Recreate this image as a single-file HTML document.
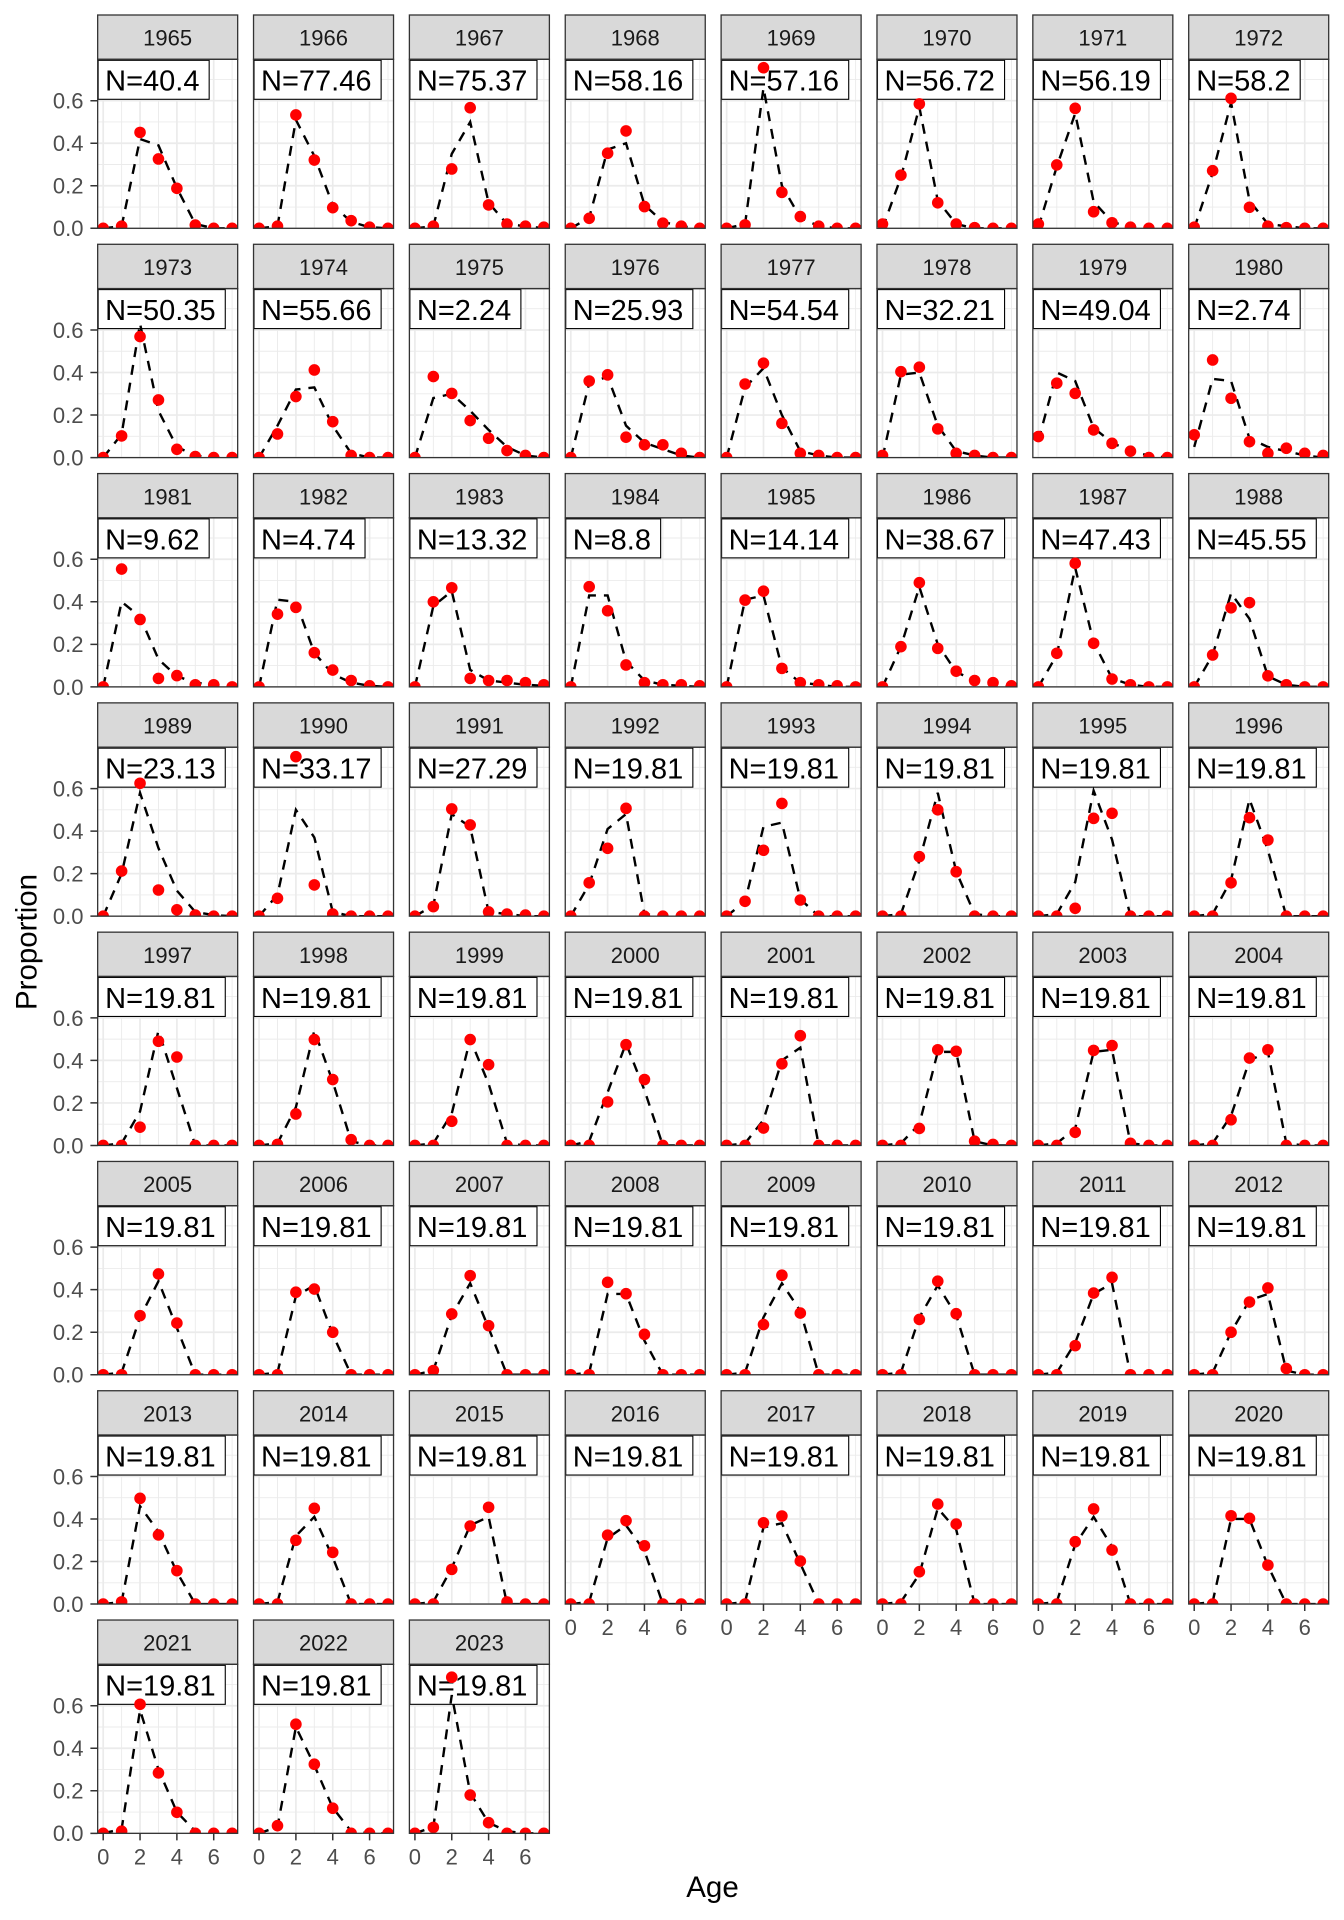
<!DOCTYPE html>
<html><head><meta charset="utf-8"><style>
html,body{margin:0;padding:0;background:#fff}
svg{display:block}
text{font-family:"Liberation Sans",Arial,sans-serif}
.s{font-size:22px;fill:#1A1A1A;text-anchor:middle}
.n{font-size:29px;fill:#000}
.ty{font-size:22px;fill:#4D4D4D;text-anchor:end}
.tx{font-size:22px;fill:#4D4D4D;text-anchor:middle}
.lb{fill:#fff;stroke:#000;stroke-width:1.1}
.d{fill:none;stroke:#000;stroke-width:2.4;stroke-dasharray:10 8;vector-effect:non-scaling-stroke}
.p{fill:none;stroke:none;marker-start:url(#m);marker-mid:url(#m);marker-end:url(#m)}
.tk{stroke:#333;stroke-width:1.5;fill:none}
.at{font-size:29.5px;fill:#000;text-anchor:middle}
</style></head><body>
<svg width="1344" height="1920" viewBox="0 0 1344 1920" xmlns="http://www.w3.org/2000/svg">
<defs>
<marker id="m" markerUnits="userSpaceOnUse" markerWidth="1" markerHeight="1" refX="0" refY="0" orient="0" overflow="visible"><ellipse cx="0" cy="0" rx="0.3149" ry="0.02727" fill="#FF0000"/></marker>
<clipPath id="cp"><rect x="0" y="44.3" width="140" height="169"/></clipPath>
<g id="bg">
<rect x="0" y="44.3" width="140" height="169" fill="#fff"/>
<path d="M23.95,44.3V213.3M60.79,44.3V213.3M97.63,44.3V213.3M134.47,44.3V213.3M0,192.03H140M0,149.5H140M0,106.97H140M0,64.43H140" stroke="#EBEBEB" stroke-width="0.9" fill="none"/>
<path d="M5.53,44.3V213.3M42.37,44.3V213.3M79.21,44.3V213.3M116.05,44.3V213.3M0,213.3H140M0,170.77H140M0,128.23H140M0,85.7H140" stroke="#EBEBEB" stroke-width="1.7" fill="none"/>
</g>
<g id="fr">
<rect x="0" y="0" width="140" height="44.3" fill="#D9D9D9" stroke="#333" stroke-width="1.3"/>
<rect x="0" y="44.3" width="140" height="169" fill="none" stroke="#333" stroke-width="1.3"/>
</g>
<path id="yt" d="M90.4,213.3H97.67M90.4,170.77H97.67M90.4,128.23H97.67M90.4,85.7H97.67"/>
<path id="xt" d="M5.53,213.3v7M42.37,213.3v7M79.21,213.3v7M116.05,213.3v7"/>
</defs>
<rect width="1344" height="1920" fill="#fff"/>

<!-- Row 0 -->
<g transform="translate(97.67,15)"><use href="#bg"/><rect class="lb" x="0.5" y="45.3" width="111" height="39"/><text class="n" x="7.5" y="75.7">N=40.4</text><g clip-path="url(#cp)"><g transform="translate(5.53,213.3) scale(18.42,-212.67)"><polyline class="d" points="0,0 1,.01 2,.42 3,.39 4,.19 5,.02 6,0 7,0"/><polyline class="p" points="0,0 1,.01 2,.451 3,.326 4,.188 5,.015 6,0 7,0"/></g></g><use href="#fr"/><text class="s" x="70" y="30.7">1965</text></g>
<g transform="translate(253.53,15)"><use href="#bg"/><rect class="lb" x="0.5" y="45.3" width="127.1" height="39"/><text class="n" x="7.5" y="75.7">N=77.46</text><g clip-path="url(#cp)"><g transform="translate(5.53,213.3) scale(18.42,-212.67)"><polyline class="d" points="0,0 1,.01 2,.51 3,.34 4,.11 5,.03 6,.005 7,0"/><polyline class="p" points="0,0 1,.01 2,.533 3,.321 4,.097 5,.036 6,.005 7,0"/></g></g><use href="#fr"/><text class="s" x="70" y="30.7">1966</text></g>
<g transform="translate(409.39,15)"><use href="#bg"/><rect class="lb" x="0.5" y="45.3" width="127.1" height="39"/><text class="n" x="7.5" y="75.7">N=75.37</text><g clip-path="url(#cp)"><g transform="translate(5.53,213.3) scale(18.42,-212.67)"><polyline class="d" points="0,0 1,.01 2,.35 3,.5 4,.12 5,.02 6,.01 7,0"/><polyline class="p" points="0,0 1,.01 2,.279 3,.567 4,.11 5,.02 6,.01 7,.005"/></g></g><use href="#fr"/><text class="s" x="70" y="30.7">1967</text></g>
<g transform="translate(565.25,15)"><use href="#bg"/><rect class="lb" x="0.5" y="45.3" width="127.1" height="39"/><text class="n" x="7.5" y="75.7">N=58.16</text><g clip-path="url(#cp)"><g transform="translate(5.53,213.3) scale(18.42,-212.67)"><polyline class="d" points="0,0 1,.05 2,.37 3,.4 4,.11 5,.03 6,.01 7,0"/><polyline class="p" points="0,0 1,.047 2,.353 3,.458 4,.102 5,.024 6,.01 7,0"/></g></g><use href="#fr"/><text class="s" x="70" y="30.7">1968</text></g>
<g transform="translate(721.11,15)"><use href="#bg"/><rect class="lb" x="0.5" y="45.3" width="127.1" height="39"/><text class="n" x="7.5" y="75.7">N=57.16</text><g clip-path="url(#cp)"><g transform="translate(5.53,213.3) scale(18.42,-212.67)"><polyline class="d" points="0,0 1,.02 2,.66 3,.2 4,.05 5,.01 6,0 7,0"/><polyline class="p" points="0,0 1,.016 2,.755 3,.169 4,.055 5,.01 6,0 7,0"/></g></g><use href="#fr"/><text class="s" x="70" y="30.7">1969</text></g>
<g transform="translate(876.97,15)"><use href="#bg"/><rect class="lb" x="0.5" y="45.3" width="127.1" height="39"/><text class="n" x="7.5" y="75.7">N=56.72</text><g clip-path="url(#cp)"><g transform="translate(5.53,213.3) scale(18.42,-212.67)"><polyline class="d" points="0,0 1,.24 2,.57 3,.13 4,.02 5,0 6,0 7,0"/><polyline class="p" points="0,.02 1,.25 2,.585 3,.12 4,.02 5,.003 6,0 7,0"/></g></g><use href="#fr"/><text class="s" x="70" y="30.7">1970</text></g>
<g transform="translate(1032.83,15)"><use href="#bg"/><rect class="lb" x="0.5" y="45.3" width="127.1" height="39"/><text class="n" x="7.5" y="75.7">N=56.19</text><g clip-path="url(#cp)"><g transform="translate(5.53,213.3) scale(18.42,-212.67)"><polyline class="d" points="0,.005 1,.29 2,.54 3,.125 4,.03 5,.005 6,0 7,0"/><polyline class="p" points="0,.02 1,.298 2,.564 3,.078 4,.026 5,.005 6,0 7,0"/></g></g><use href="#fr"/><text class="s" x="70" y="30.7">1971</text></g>
<g transform="translate(1188.69,15)"><use href="#bg"/><rect class="lb" x="0.5" y="45.3" width="111" height="39"/><text class="n" x="7.5" y="75.7">N=58.2</text><g clip-path="url(#cp)"><g transform="translate(5.53,213.3) scale(18.42,-212.67)"><polyline class="d" points="0,0 1,.26 2,.59 3,.13 4,.02 5,.01 6,0 7,0"/><polyline class="p" points="0,.005 1,.271 2,.611 3,.099 4,.01 5,.003 6,0 7,0"/></g></g><use href="#fr"/><text class="s" x="70" y="30.7">1972</text></g>

<!-- Row 1 -->
<g transform="translate(97.67,244.29)"><use href="#bg"/><rect class="lb" x="0.5" y="45.3" width="127.1" height="39"/><text class="n" x="7.5" y="75.7">N=50.35</text><g clip-path="url(#cp)"><g transform="translate(5.53,213.3) scale(18.42,-212.67)"><polyline class="d" points="0,0 1,.11 2,.63 3,.22 4,.05 5,.01 6,0 7,0"/><polyline class="p" points="0,0 1,.102 2,.569 3,.271 4,.039 5,.005 6,0 7,0"/></g></g><use href="#fr"/><text class="s" x="70" y="30.7">1973</text></g>
<g transform="translate(253.53,244.29)"><use href="#bg"/><rect class="lb" x="0.5" y="45.3" width="127.1" height="39"/><text class="n" x="7.5" y="75.7">N=55.66</text><g clip-path="url(#cp)"><g transform="translate(5.53,213.3) scale(18.42,-212.67)"><polyline class="d" points="0,0 1,.15 2,.32 3,.33 4,.15 5,.02 6,0 7,0"/><polyline class="p" points="0,0 1,.111 2,.287 3,.412 4,.169 5,.01 6,0 7,0"/></g></g><use href="#fr"/><text class="s" x="70" y="30.7">1974</text></g>
<g transform="translate(409.39,244.29)"><use href="#bg"/><rect class="lb" x="0.5" y="45.3" width="111" height="39"/><text class="n" x="7.5" y="75.7">N=2.24</text><g clip-path="url(#cp)"><g transform="translate(5.53,213.3) scale(18.42,-212.67)"><polyline class="d" points="0,0 1,.28 2,.3 3,.22 4,.13 5,.05 6,.01 7,0"/><polyline class="p" points="0,0 1,.381 2,.302 3,.174 4,.091 5,.033 6,.01 7,0"/></g></g><use href="#fr"/><text class="s" x="70" y="30.7">1975</text></g>
<g transform="translate(565.25,244.29)"><use href="#bg"/><rect class="lb" x="0.5" y="45.3" width="127.1" height="39"/><text class="n" x="7.5" y="75.7">N=25.93</text><g clip-path="url(#cp)"><g transform="translate(5.53,213.3) scale(18.42,-212.67)"><polyline class="d" points="0,0 1,.35 2,.38 3,.15 4,.07 5,.04 6,.01 7,0"/><polyline class="p" points="0,0 1,.36 2,.389 3,.096 4,.06 5,.06 6,.02 7,0"/></g></g><use href="#fr"/><text class="s" x="70" y="30.7">1976</text></g>
<g transform="translate(721.11,244.29)"><use href="#bg"/><rect class="lb" x="0.5" y="45.3" width="127.1" height="39"/><text class="n" x="7.5" y="75.7">N=54.54</text><g clip-path="url(#cp)"><g transform="translate(5.53,213.3) scale(18.42,-212.67)"><polyline class="d" points="0,0 1,.33 2,.42 3,.2 4,.03 5,.01 6,0 7,0"/><polyline class="p" points="0,0 1,.346 2,.444 3,.161 4,.02 5,.01 6,0 7,0"/></g></g><use href="#fr"/><text class="s" x="70" y="30.7">1977</text></g>
<g transform="translate(876.97,244.29)"><use href="#bg"/><rect class="lb" x="0.5" y="45.3" width="127.1" height="39"/><text class="n" x="7.5" y="75.7">N=32.21</text><g clip-path="url(#cp)"><g transform="translate(5.53,213.3) scale(18.42,-212.67)"><polyline class="d" points="0,0 1,.39 2,.4 3,.15 4,.03 5,.01 6,0 7,0"/><polyline class="p" points="0,.01 1,.404 2,.425 3,.135 4,.02 5,.01 6,0 7,0"/></g></g><use href="#fr"/><text class="s" x="70" y="30.7">1978</text></g>
<g transform="translate(1032.83,244.29)"><use href="#bg"/><rect class="lb" x="0.5" y="45.3" width="127.1" height="39"/><text class="n" x="7.5" y="75.7">N=49.04</text><g clip-path="url(#cp)"><g transform="translate(5.53,213.3) scale(18.42,-212.67)"><polyline class="d" points="0,.08 1,.4 2,.36 3,.14 4,.07 5,.03 6,.01 7,0"/><polyline class="p" points="0,.099 1,.35 2,.302 3,.13 4,.067 5,.03 6,0 7,0"/></g></g><use href="#fr"/><text class="s" x="70" y="30.7">1979</text></g>
<g transform="translate(1188.69,244.29)"><use href="#bg"/><rect class="lb" x="0.5" y="45.3" width="111" height="39"/><text class="n" x="7.5" y="75.7">N=2.74</text><g clip-path="url(#cp)"><g transform="translate(5.53,213.3) scale(18.42,-212.67)"><polyline class="d" points="0,.05 1,.37 2,.36 3,.09 4,.05 5,.03 6,.01 7,0"/><polyline class="p" points="0,.107 1,.459 2,.279 3,.075 4,.02 5,.044 6,.02 7,.01"/></g></g><use href="#fr"/><text class="s" x="70" y="30.7">1980</text></g>

<!-- Row 2 -->
<g transform="translate(97.67,473.58)"><use href="#bg"/><rect class="lb" x="0.5" y="45.3" width="111" height="39"/><text class="n" x="7.5" y="75.7">N=9.62</text><g clip-path="url(#cp)"><g transform="translate(5.53,213.3) scale(18.42,-212.67)"><polyline class="d" points="0,0 1,.4 2,.33 3,.13 4,.05 5,.02 6,.01 7,0"/><polyline class="p" points="0,0 1,.554 2,.317 3,.04 4,.053 5,.01 6,.01 7,0"/></g></g><use href="#fr"/><text class="s" x="70" y="30.7">1981</text></g>
<g transform="translate(253.53,473.58)"><use href="#bg"/><rect class="lb" x="0.5" y="45.3" width="111" height="39"/><text class="n" x="7.5" y="75.7">N=4.74</text><g clip-path="url(#cp)"><g transform="translate(5.53,213.3) scale(18.42,-212.67)"><polyline class="d" points="0,0 1,.41 2,.4 3,.16 4,.06 5,.02 6,.005 7,0"/><polyline class="p" points="0,0 1,.342 2,.374 3,.161 4,.079 5,.03 6,.005 7,0"/></g></g><use href="#fr"/><text class="s" x="70" y="30.7">1982</text></g>
<g transform="translate(409.39,473.58)"><use href="#bg"/><rect class="lb" x="0.5" y="45.3" width="127.1" height="39"/><text class="n" x="7.5" y="75.7">N=13.32</text><g clip-path="url(#cp)"><g transform="translate(5.53,213.3) scale(18.42,-212.67)"><polyline class="d" points="0,0 1,.38 2,.45 3,.08 4,.03 5,.02 6,.01 7,.005"/><polyline class="p" points="0,0 1,.4 2,.466 3,.04 4,.03 5,.03 6,.02 7,.01"/></g></g><use href="#fr"/><text class="s" x="70" y="30.7">1983</text></g>
<g transform="translate(565.25,473.58)"><use href="#bg"/><rect class="lb" x="0.5" y="45.3" width="94.9" height="39"/><text class="n" x="7.5" y="75.7">N=8.8</text><g clip-path="url(#cp)"><g transform="translate(5.53,213.3) scale(18.42,-212.67)"><polyline class="d" points="0,0 1,.43 2,.43 3,.12 4,.03 5,.01 6,.005 7,0"/><polyline class="p" points="0,0 1,.471 2,.358 3,.103 4,.02 5,.01 6,.01 7,.005"/></g></g><use href="#fr"/><text class="s" x="70" y="30.7">1984</text></g>
<g transform="translate(721.11,473.58)"><use href="#bg"/><rect class="lb" x="0.5" y="45.3" width="127.1" height="39"/><text class="n" x="7.5" y="75.7">N=14.14</text><g clip-path="url(#cp)"><g transform="translate(5.53,213.3) scale(18.42,-212.67)"><polyline class="d" points="0,0 1,.41 2,.43 3,.09 4,.02 5,.01 6,0 7,0"/><polyline class="p" points="0,0 1,.408 2,.45 3,.087 4,.02 5,.01 6,.005 7,0"/></g></g><use href="#fr"/><text class="s" x="70" y="30.7">1985</text></g>
<g transform="translate(876.97,473.58)"><use href="#bg"/><rect class="lb" x="0.5" y="45.3" width="127.1" height="39"/><text class="n" x="7.5" y="75.7">N=38.67</text><g clip-path="url(#cp)"><g transform="translate(5.53,213.3) scale(18.42,-212.67)"><polyline class="d" points="0,0 1,.19 2,.47 3,.2 4,.07 5,.03 6,.01 7,0"/><polyline class="p" points="0,0 1,.189 2,.49 3,.181 4,.074 5,.03 6,.02 7,.005"/></g></g><use href="#fr"/><text class="s" x="70" y="30.7">1986</text></g>
<g transform="translate(1032.83,473.58)"><use href="#bg"/><rect class="lb" x="0.5" y="45.3" width="127.1" height="39"/><text class="n" x="7.5" y="75.7">N=47.43</text><g clip-path="url(#cp)"><g transform="translate(5.53,213.3) scale(18.42,-212.67)"><polyline class="d" points="0,0 1,.15 2,.56 3,.21 4,.04 5,.01 6,0 7,0"/><polyline class="p" points="0,0 1,.158 2,.581 3,.205 4,.037 5,.01 6,0 7,0"/></g></g><use href="#fr"/><text class="s" x="70" y="30.7">1987</text></g>
<g transform="translate(1188.69,473.58)"><use href="#bg"/><rect class="lb" x="0.5" y="45.3" width="127.1" height="39"/><text class="n" x="7.5" y="75.7">N=45.55</text><g clip-path="url(#cp)"><g transform="translate(5.53,213.3) scale(18.42,-212.67)"><polyline class="d" points="0,0 1,.15 2,.44 3,.32 4,.05 5,.01 6,0 7,0"/><polyline class="p" points="0,0 1,.15 2,.372 3,.396 4,.052 5,.01 6,0 7,0"/></g></g><use href="#fr"/><text class="s" x="70" y="30.7">1988</text></g>

<!-- Row 3 -->
<g transform="translate(97.67,702.87)"><use href="#bg"/><rect class="lb" x="0.5" y="45.3" width="127.1" height="39"/><text class="n" x="7.5" y="75.7">N=23.13</text><g clip-path="url(#cp)"><g transform="translate(5.53,213.3) scale(18.42,-212.67)"><polyline class="d" points="0,0 1,.2 2,.58 3,.32 4,.12 5,.02 6,.005 7,0"/><polyline class="p" points="0,0 1,.212 2,.625 3,.123 4,.03 5,.005 6,0 7,0"/></g></g><use href="#fr"/><text class="s" x="70" y="30.7">1989</text></g>
<g transform="translate(253.53,702.87)"><use href="#bg"/><rect class="lb" x="0.5" y="45.3" width="127.1" height="39"/><text class="n" x="7.5" y="75.7">N=33.17</text><g clip-path="url(#cp)"><g transform="translate(5.53,213.3) scale(18.42,-212.67)"><polyline class="d" points="0,0 1,.1 2,.5 3,.37 4,.02 5,0 6,0 7,0"/><polyline class="p" points="0,0 1,.084 2,.75 3,.147 4,.01 5,0 6,0 7,0"/></g></g><use href="#fr"/><text class="s" x="70" y="30.7">1990</text></g>
<g transform="translate(409.39,702.87)"><use href="#bg"/><rect class="lb" x="0.5" y="45.3" width="127.1" height="39"/><text class="n" x="7.5" y="75.7">N=27.29</text><g clip-path="url(#cp)"><g transform="translate(5.53,213.3) scale(18.42,-212.67)"><polyline class="d" points="0,0 1,.05 2,.48 3,.42 4,.02 5,.01 6,0 7,0"/><polyline class="p" points="0,0 1,.045 2,.504 3,.429 4,.02 5,.01 6,.005 7,0"/></g></g><use href="#fr"/><text class="s" x="70" y="30.7">1991</text></g>
<g transform="translate(565.25,702.87)"><use href="#bg"/><rect class="lb" x="0.5" y="45.3" width="127.1" height="39"/><text class="n" x="7.5" y="75.7">N=19.81</text><g clip-path="url(#cp)"><g transform="translate(5.53,213.3) scale(18.42,-212.67)"><polyline class="d" points="0,0 1,.15 2,.41 3,.48 4,.01 5,0 6,0 7,0"/><polyline class="p" points="0,0 1,.157 2,.319 3,.507 4,0 5,0 6,0 7,0"/></g></g><use href="#fr"/><text class="s" x="70" y="30.7">1992</text></g>
<g transform="translate(721.11,702.87)"><use href="#bg"/><rect class="lb" x="0.5" y="45.3" width="127.1" height="39"/><text class="n" x="7.5" y="75.7">N=19.81</text><g clip-path="url(#cp)"><g transform="translate(5.53,213.3) scale(18.42,-212.67)"><polyline class="d" points="0,0 1,.07 2,.42 3,.44 4,.08 5,0 6,0 7,0"/><polyline class="p" points="0,0 1,.07 2,.31 3,.53 4,.076 5,0 6,0 7,0"/></g></g><use href="#fr"/><text class="s" x="70" y="30.7">1993</text></g>
<g transform="translate(876.97,702.87)"><use href="#bg"/><rect class="lb" x="0.5" y="45.3" width="127.1" height="39"/><text class="n" x="7.5" y="75.7">N=19.81</text><g clip-path="url(#cp)"><g transform="translate(5.53,213.3) scale(18.42,-212.67)"><polyline class="d" points="0,0 1,.01 2,.26 3,.58 4,.21 5,.01 6,0 7,0"/><polyline class="p" points="0,0 1,0 2,.28 3,.5 4,.209 5,0 6,0 7,0"/></g></g><use href="#fr"/><text class="s" x="70" y="30.7">1994</text></g>
<g transform="translate(1032.83,702.87)"><use href="#bg"/><rect class="lb" x="0.5" y="45.3" width="127.1" height="39"/><text class="n" x="7.5" y="75.7">N=19.81</text><g clip-path="url(#cp)"><g transform="translate(5.53,213.3) scale(18.42,-212.67)"><polyline class="d" points="0,0 1,.01 2,.16 3,.59 4,.36 5,0 6,0 7,0"/><polyline class="p" points="0,0 1,0 2,.037 3,.46 4,.484 5,0 6,0 7,0"/></g></g><use href="#fr"/><text class="s" x="70" y="30.7">1995</text></g>
<g transform="translate(1188.69,702.87)"><use href="#bg"/><rect class="lb" x="0.5" y="45.3" width="127.1" height="39"/><text class="n" x="7.5" y="75.7">N=19.81</text><g clip-path="url(#cp)"><g transform="translate(5.53,213.3) scale(18.42,-212.67)"><polyline class="d" points="0,0 1,.01 2,.17 3,.55 4,.31 5,0 6,0 7,0"/><polyline class="p" points="0,0 1,0 2,.157 3,.463 4,.358 5,0 6,0 7,0"/></g></g><use href="#fr"/><text class="s" x="70" y="30.7">1996</text></g>

<!-- Row 4 -->
<g transform="translate(97.67,932.16)"><use href="#bg"/><rect class="lb" x="0.5" y="45.3" width="127.1" height="39"/><text class="n" x="7.5" y="75.7">N=19.81</text><g clip-path="url(#cp)"><g transform="translate(5.53,213.3) scale(18.42,-212.67)"><polyline class="d" points="0,0 1,.01 2,.16 3,.54 4,.27 5,0 6,0 7,0"/><polyline class="p" points="0,0 1,0 2,.086 3,.49 4,.416 5,0 6,0 7,0"/></g></g><use href="#fr"/><text class="s" x="70" y="30.7">1997</text></g>
<g transform="translate(253.53,932.16)"><use href="#bg"/><rect class="lb" x="0.5" y="45.3" width="127.1" height="39"/><text class="n" x="7.5" y="75.7">N=19.81</text><g clip-path="url(#cp)"><g transform="translate(5.53,213.3) scale(18.42,-212.67)"><polyline class="d" points="0,0 1,.01 2,.18 3,.54 4,.3 5,.02 6,0 7,0"/><polyline class="p" points="0,0 1,.005 2,.148 3,.498 4,.31 5,.027 6,0 7,0"/></g></g><use href="#fr"/><text class="s" x="70" y="30.7">1998</text></g>
<g transform="translate(409.39,932.16)"><use href="#bg"/><rect class="lb" x="0.5" y="45.3" width="127.1" height="39"/><text class="n" x="7.5" y="75.7">N=19.81</text><g clip-path="url(#cp)"><g transform="translate(5.53,213.3) scale(18.42,-212.67)"><polyline class="d" points="0,0 1,.01 2,.15 3,.5 4,.29 5,.01 6,0 7,0"/><polyline class="p" points="0,0 1,0 2,.114 3,.498 4,.38 5,0 6,0 7,0"/></g></g><use href="#fr"/><text class="s" x="70" y="30.7">1999</text></g>
<g transform="translate(565.25,932.16)"><use href="#bg"/><rect class="lb" x="0.5" y="45.3" width="127.1" height="39"/><text class="n" x="7.5" y="75.7">N=19.81</text><g clip-path="url(#cp)"><g transform="translate(5.53,213.3) scale(18.42,-212.67)"><polyline class="d" points="0,0 1,.02 2,.25 3,.48 4,.26 5,0 6,0 7,0"/><polyline class="p" points="0,0 1,0 2,.205 3,.474 4,.31 5,0 6,0 7,0"/></g></g><use href="#fr"/><text class="s" x="70" y="30.7">2000</text></g>
<g transform="translate(721.11,932.16)"><use href="#bg"/><rect class="lb" x="0.5" y="45.3" width="127.1" height="39"/><text class="n" x="7.5" y="75.7">N=19.81</text><g clip-path="url(#cp)"><g transform="translate(5.53,213.3) scale(18.42,-212.67)"><polyline class="d" points="0,0 1,.01 2,.12 3,.4 4,.46 5,0 6,0 7,0"/><polyline class="p" points="0,0 1,0 2,.082 3,.384 4,.516 5,0 6,0 7,0"/></g></g><use href="#fr"/><text class="s" x="70" y="30.7">2001</text></g>
<g transform="translate(876.97,932.16)"><use href="#bg"/><rect class="lb" x="0.5" y="45.3" width="127.1" height="39"/><text class="n" x="7.5" y="75.7">N=19.81</text><g clip-path="url(#cp)"><g transform="translate(5.53,213.3) scale(18.42,-212.67)"><polyline class="d" points="0,0 1,.01 2,.1 3,.44 4,.44 5,.02 6,0 7,0"/><polyline class="p" points="0,0 1,0 2,.08 3,.45 4,.443 5,.02 6,.005 7,0"/></g></g><use href="#fr"/><text class="s" x="70" y="30.7">2002</text></g>
<g transform="translate(1032.83,932.16)"><use href="#bg"/><rect class="lb" x="0.5" y="45.3" width="127.1" height="39"/><text class="n" x="7.5" y="75.7">N=19.81</text><g clip-path="url(#cp)"><g transform="translate(5.53,213.3) scale(18.42,-212.67)"><polyline class="d" points="0,0 1,.01 2,.08 3,.44 4,.45 5,.01 6,0 7,0"/><polyline class="p" points="0,0 1,0 2,.062 3,.447 4,.47 5,.01 6,0 7,0"/></g></g><use href="#fr"/><text class="s" x="70" y="30.7">2003</text></g>
<g transform="translate(1188.69,932.16)"><use href="#bg"/><rect class="lb" x="0.5" y="45.3" width="127.1" height="39"/><text class="n" x="7.5" y="75.7">N=19.81</text><g clip-path="url(#cp)"><g transform="translate(5.53,213.3) scale(18.42,-212.67)"><polyline class="d" points="0,0 1,.01 2,.14 3,.4 4,.44 5,.01 6,0 7,0"/><polyline class="p" points="0,0 1,0 2,.121 3,.411 4,.45 5,0 6,0 7,0"/></g></g><use href="#fr"/><text class="s" x="70" y="30.7">2004</text></g>

<!-- Row 5 -->
<g transform="translate(97.67,1161.45)"><use href="#bg"/><rect class="lb" x="0.5" y="45.3" width="127.1" height="39"/><text class="n" x="7.5" y="75.7">N=19.81</text><g clip-path="url(#cp)"><g transform="translate(5.53,213.3) scale(18.42,-212.67)"><polyline class="d" points="0,0 1,.01 2,.27 3,.44 4,.22 5,0 6,0 7,0"/><polyline class="p" points="0,0 1,0 2,.278 3,.474 4,.243 5,0 6,0 7,0"/></g></g><use href="#fr"/><text class="s" x="70" y="30.7">2005</text></g>
<g transform="translate(253.53,1161.45)"><use href="#bg"/><rect class="lb" x="0.5" y="45.3" width="127.1" height="39"/><text class="n" x="7.5" y="75.7">N=19.81</text><g clip-path="url(#cp)"><g transform="translate(5.53,213.3) scale(18.42,-212.67)"><polyline class="d" points="0,0 1,.01 2,.37 3,.42 4,.19 5,0 6,0 7,0"/><polyline class="p" points="0,0 1,0 2,.388 3,.403 4,.2 5,0 6,0 7,0"/></g></g><use href="#fr"/><text class="s" x="70" y="30.7">2006</text></g>
<g transform="translate(409.39,1161.45)"><use href="#bg"/><rect class="lb" x="0.5" y="45.3" width="127.1" height="39"/><text class="n" x="7.5" y="75.7">N=19.81</text><g clip-path="url(#cp)"><g transform="translate(5.53,213.3) scale(18.42,-212.67)"><polyline class="d" points="0,0 1,.02 2,.28 3,.43 4,.22 5,0 6,0 7,0"/><polyline class="p" points="0,0 1,.02 2,.286 3,.466 4,.231 5,0 6,0 7,0"/></g></g><use href="#fr"/><text class="s" x="70" y="30.7">2007</text></g>
<g transform="translate(565.25,1161.45)"><use href="#bg"/><rect class="lb" x="0.5" y="45.3" width="127.1" height="39"/><text class="n" x="7.5" y="75.7">N=19.81</text><g clip-path="url(#cp)"><g transform="translate(5.53,213.3) scale(18.42,-212.67)"><polyline class="d" points="0,0 1,.01 2,.38 3,.38 4,.16 5,0 6,0 7,0"/><polyline class="p" points="0,0 1,0 2,.435 3,.381 4,.19 5,0 6,0 7,0"/></g></g><use href="#fr"/><text class="s" x="70" y="30.7">2008</text></g>
<g transform="translate(721.11,1161.45)"><use href="#bg"/><rect class="lb" x="0.5" y="45.3" width="127.1" height="39"/><text class="n" x="7.5" y="75.7">N=19.81</text><g clip-path="url(#cp)"><g transform="translate(5.53,213.3) scale(18.42,-212.67)"><polyline class="d" points="0,0 1,.01 2,.27 3,.43 4,.3 5,0 6,0 7,0"/><polyline class="p" points="0,0 1,0 2,.236 3,.468 4,.29 5,0 6,0 7,0"/></g></g><use href="#fr"/><text class="s" x="70" y="30.7">2009</text></g>
<g transform="translate(876.97,1161.45)"><use href="#bg"/><rect class="lb" x="0.5" y="45.3" width="127.1" height="39"/><text class="n" x="7.5" y="75.7">N=19.81</text><g clip-path="url(#cp)"><g transform="translate(5.53,213.3) scale(18.42,-212.67)"><polyline class="d" points="0,0 1,.01 2,.27 3,.42 4,.28 5,0 6,0 7,0"/><polyline class="p" points="0,0 1,0 2,.26 3,.44 4,.287 5,0 6,0 7,0"/></g></g><use href="#fr"/><text class="s" x="70" y="30.7">2010</text></g>
<g transform="translate(1032.83,1161.45)"><use href="#bg"/><rect class="lb" x="0.5" y="45.3" width="127.1" height="39"/><text class="n" x="7.5" y="75.7">N=19.81</text><g clip-path="url(#cp)"><g transform="translate(5.53,213.3) scale(18.42,-212.67)"><polyline class="d" points="0,0 1,.01 2,.15 3,.38 4,.43 5,0 6,0 7,0"/><polyline class="p" points="0,0 1,0 2,.137 3,.384 4,.458 5,0 6,0 7,0"/></g></g><use href="#fr"/><text class="s" x="70" y="30.7">2011</text></g>
<g transform="translate(1188.69,1161.45)"><use href="#bg"/><rect class="lb" x="0.5" y="45.3" width="127.1" height="39"/><text class="n" x="7.5" y="75.7">N=19.81</text><g clip-path="url(#cp)"><g transform="translate(5.53,213.3) scale(18.42,-212.67)"><polyline class="d" points="0,0 1,.01 2,.2 3,.35 4,.38 5,.02 6,0 7,0"/><polyline class="p" points="0,0 1,0 2,.2 3,.342 4,.408 5,.029 6,0 7,0"/></g></g><use href="#fr"/><text class="s" x="70" y="30.7">2012</text></g>

<!-- Row 6 -->
<g transform="translate(97.67,1390.74)"><use href="#bg"/><rect class="lb" x="0.5" y="45.3" width="127.1" height="39"/><text class="n" x="7.5" y="75.7">N=19.81</text><g clip-path="url(#cp)"><g transform="translate(5.53,213.3) scale(18.42,-212.67)"><polyline class="d" points="0,0 1,.01 2,.46 3,.34 4,.15 5,0 6,0 7,0"/><polyline class="p" points="0,0 1,.01 2,.497 3,.325 4,.157 5,0 6,0 7,0"/></g></g><use href="#fr"/><text class="s" x="70" y="30.7">2013</text></g>
<g transform="translate(253.53,1390.74)"><use href="#bg"/><rect class="lb" x="0.5" y="45.3" width="127.1" height="39"/><text class="n" x="7.5" y="75.7">N=19.81</text><g clip-path="url(#cp)"><g transform="translate(5.53,213.3) scale(18.42,-212.67)"><polyline class="d" points="0,0 1,.01 2,.32 3,.41 4,.22 5,0 6,0 7,0"/><polyline class="p" points="0,0 1,0 2,.3 3,.45 4,.243 5,0 6,0 7,0"/></g></g><use href="#fr"/><text class="s" x="70" y="30.7">2014</text></g>
<g transform="translate(409.39,1390.74)"><use href="#bg"/><rect class="lb" x="0.5" y="45.3" width="127.1" height="39"/><text class="n" x="7.5" y="75.7">N=19.81</text><g clip-path="url(#cp)"><g transform="translate(5.53,213.3) scale(18.42,-212.67)"><polyline class="d" points="0,0 1,.01 2,.17 3,.37 4,.41 5,0 6,0 7,0"/><polyline class="p" points="0,0 1,0 2,.163 3,.367 4,.455 5,.01 6,0 7,0"/></g></g><use href="#fr"/><text class="s" x="70" y="30.7">2015</text></g>
<g transform="translate(565.25,1390.74)"><use href="#bg"/><rect class="lb" x="0.5" y="45.3" width="127.1" height="39"/><text class="n" x="7.5" y="75.7">N=19.81</text><g clip-path="url(#cp)"><g transform="translate(5.53,213.3) scale(18.42,-212.67)"><polyline class="d" points="0,0 1,.01 2,.31 3,.37 4,.25 5,0 6,0 7,0"/><polyline class="p" points="0,0 1,0 2,.324 3,.392 4,.274 5,0 6,0 7,0"/></g></g><use href="#fr"/><text class="s" x="70" y="30.7">2016</text></g>
<g transform="translate(721.11,1390.74)"><use href="#bg"/><rect class="lb" x="0.5" y="45.3" width="127.1" height="39"/><text class="n" x="7.5" y="75.7">N=19.81</text><g clip-path="url(#cp)"><g transform="translate(5.53,213.3) scale(18.42,-212.67)"><polyline class="d" points="0,0 1,.01 2,.36 3,.38 4,.19 5,0 6,0 7,0"/><polyline class="p" points="0,0 1,0 2,.382 3,.414 4,.202 5,0 6,0 7,0"/></g></g><use href="#fr"/><text class="s" x="70" y="30.7">2017</text></g>
<g transform="translate(876.97,1390.74)"><use href="#bg"/><rect class="lb" x="0.5" y="45.3" width="127.1" height="39"/><text class="n" x="7.5" y="75.7">N=19.81</text><g clip-path="url(#cp)"><g transform="translate(5.53,213.3) scale(18.42,-212.67)"><polyline class="d" points="0,0 1,.01 2,.14 3,.45 4,.35 5,0 6,0 7,0"/><polyline class="p" points="0,0 1,0 2,.152 3,.47 4,.376 5,0 6,0 7,0"/></g></g><use href="#fr"/><text class="s" x="70" y="30.7">2018</text></g>
<g transform="translate(1032.83,1390.74)"><use href="#bg"/><rect class="lb" x="0.5" y="45.3" width="127.1" height="39"/><text class="n" x="7.5" y="75.7">N=19.81</text><g clip-path="url(#cp)"><g transform="translate(5.53,213.3) scale(18.42,-212.67)"><polyline class="d" points="0,0 1,.01 2,.28 3,.41 4,.27 5,0 6,0 7,0"/><polyline class="p" points="0,0 1,0 2,.293 3,.447 4,.254 5,0 6,0 7,0"/></g></g><use href="#fr"/><text class="s" x="70" y="30.7">2019</text></g>
<g transform="translate(1188.69,1390.74)"><use href="#bg"/><rect class="lb" x="0.5" y="45.3" width="127.1" height="39"/><text class="n" x="7.5" y="75.7">N=19.81</text><g clip-path="url(#cp)"><g transform="translate(5.53,213.3) scale(18.42,-212.67)"><polyline class="d" points="0,0 1,.01 2,.4 3,.4 4,.18 5,0 6,0 7,0"/><polyline class="p" points="0,0 1,0 2,.415 3,.403 4,.183 5,0 6,0 7,0"/></g></g><use href="#fr"/><text class="s" x="70" y="30.7">2020</text></g>

<!-- Row 7 -->
<g transform="translate(97.67,1620.03)"><use href="#bg"/><rect class="lb" x="0.5" y="45.3" width="127.1" height="39"/><text class="n" x="7.5" y="75.7">N=19.81</text><g clip-path="url(#cp)"><g transform="translate(5.53,213.3) scale(18.42,-212.67)"><polyline class="d" points="0,0 1,.02 2,.58 3,.3 4,.1 5,.01 6,0 7,0"/><polyline class="p" points="0,0 1,.01 2,.607 3,.284 4,.099 5,0 6,0 7,0"/></g></g><use href="#fr"/><text class="s" x="70" y="30.7">2021</text></g>
<g transform="translate(253.53,1620.03)"><use href="#bg"/><rect class="lb" x="0.5" y="45.3" width="127.1" height="39"/><text class="n" x="7.5" y="75.7">N=19.81</text><g clip-path="url(#cp)"><g transform="translate(5.53,213.3) scale(18.42,-212.67)"><polyline class="d" points="0,0 1,.03 2,.5 3,.32 4,.12 5,.01 6,0 7,0"/><polyline class="p" points="0,0 1,.036 2,.513 3,.325 4,.118 5,0 6,0 7,0"/></g></g><use href="#fr"/><text class="s" x="70" y="30.7">2022</text></g>
<g transform="translate(409.39,1620.03)"><use href="#bg"/><rect class="lb" x="0.5" y="45.3" width="127.1" height="39"/><text class="n" x="7.5" y="75.7">N=19.81</text><g clip-path="url(#cp)"><g transform="translate(5.53,213.3) scale(18.42,-212.67)"><polyline class="d" points="0,0 1,.03 2,.65 3,.19 4,.05 5,.01 6,0 7,0"/><polyline class="p" points="0,0 1,.028 2,.734 3,.18 4,.05 5,0 6,0 7,0"/></g></g><use href="#fr"/><text class="s" x="70" y="30.7">2023</text></g>

<!-- Y axes -->
<g transform="translate(0,15)"><use href="#yt" class="tk"/><text class="ty" x="83.5" y="221.2">0.0</text><text class="ty" x="83.5" y="178.67">0.2</text><text class="ty" x="83.5" y="136.13">0.4</text><text class="ty" x="83.5" y="93.6">0.6</text></g>
<g transform="translate(0,244.29)"><use href="#yt" class="tk"/><text class="ty" x="83.5" y="221.2">0.0</text><text class="ty" x="83.5" y="178.67">0.2</text><text class="ty" x="83.5" y="136.13">0.4</text><text class="ty" x="83.5" y="93.6">0.6</text></g>
<g transform="translate(0,473.58)"><use href="#yt" class="tk"/><text class="ty" x="83.5" y="221.2">0.0</text><text class="ty" x="83.5" y="178.67">0.2</text><text class="ty" x="83.5" y="136.13">0.4</text><text class="ty" x="83.5" y="93.6">0.6</text></g>
<g transform="translate(0,702.87)"><use href="#yt" class="tk"/><text class="ty" x="83.5" y="221.2">0.0</text><text class="ty" x="83.5" y="178.67">0.2</text><text class="ty" x="83.5" y="136.13">0.4</text><text class="ty" x="83.5" y="93.6">0.6</text></g>
<g transform="translate(0,932.16)"><use href="#yt" class="tk"/><text class="ty" x="83.5" y="221.2">0.0</text><text class="ty" x="83.5" y="178.67">0.2</text><text class="ty" x="83.5" y="136.13">0.4</text><text class="ty" x="83.5" y="93.6">0.6</text></g>
<g transform="translate(0,1161.45)"><use href="#yt" class="tk"/><text class="ty" x="83.5" y="221.2">0.0</text><text class="ty" x="83.5" y="178.67">0.2</text><text class="ty" x="83.5" y="136.13">0.4</text><text class="ty" x="83.5" y="93.6">0.6</text></g>
<g transform="translate(0,1390.74)"><use href="#yt" class="tk"/><text class="ty" x="83.5" y="221.2">0.0</text><text class="ty" x="83.5" y="178.67">0.2</text><text class="ty" x="83.5" y="136.13">0.4</text><text class="ty" x="83.5" y="93.6">0.6</text></g>
<g transform="translate(0,1620.03)"><use href="#yt" class="tk"/><text class="ty" x="83.5" y="221.2">0.0</text><text class="ty" x="83.5" y="178.67">0.2</text><text class="ty" x="83.5" y="136.13">0.4</text><text class="ty" x="83.5" y="93.6">0.6</text></g>

<!-- X axes -->
<g transform="translate(97.67,1620.03)"><use href="#xt" class="tk"/><text class="tx" x="5.53" y="244.3">0</text><text class="tx" x="42.37" y="244.3">2</text><text class="tx" x="79.21" y="244.3">4</text><text class="tx" x="116.05" y="244.3">6</text></g>
<g transform="translate(253.53,1620.03)"><use href="#xt" class="tk"/><text class="tx" x="5.53" y="244.3">0</text><text class="tx" x="42.37" y="244.3">2</text><text class="tx" x="79.21" y="244.3">4</text><text class="tx" x="116.05" y="244.3">6</text></g>
<g transform="translate(409.39,1620.03)"><use href="#xt" class="tk"/><text class="tx" x="5.53" y="244.3">0</text><text class="tx" x="42.37" y="244.3">2</text><text class="tx" x="79.21" y="244.3">4</text><text class="tx" x="116.05" y="244.3">6</text></g>
<g transform="translate(565.25,1390.74)"><use href="#xt" class="tk"/><text class="tx" x="5.53" y="244.3">0</text><text class="tx" x="42.37" y="244.3">2</text><text class="tx" x="79.21" y="244.3">4</text><text class="tx" x="116.05" y="244.3">6</text></g>
<g transform="translate(721.11,1390.74)"><use href="#xt" class="tk"/><text class="tx" x="5.53" y="244.3">0</text><text class="tx" x="42.37" y="244.3">2</text><text class="tx" x="79.21" y="244.3">4</text><text class="tx" x="116.05" y="244.3">6</text></g>
<g transform="translate(876.97,1390.74)"><use href="#xt" class="tk"/><text class="tx" x="5.53" y="244.3">0</text><text class="tx" x="42.37" y="244.3">2</text><text class="tx" x="79.21" y="244.3">4</text><text class="tx" x="116.05" y="244.3">6</text></g>
<g transform="translate(1032.83,1390.74)"><use href="#xt" class="tk"/><text class="tx" x="5.53" y="244.3">0</text><text class="tx" x="42.37" y="244.3">2</text><text class="tx" x="79.21" y="244.3">4</text><text class="tx" x="116.05" y="244.3">6</text></g>
<g transform="translate(1188.69,1390.74)"><use href="#xt" class="tk"/><text class="tx" x="5.53" y="244.3">0</text><text class="tx" x="42.37" y="244.3">2</text><text class="tx" x="79.21" y="244.3">4</text><text class="tx" x="116.05" y="244.3">6</text></g>

<!-- Axis titles -->
<text class="at" transform="translate(36.5,942) rotate(-90)">Proportion</text>
<text class="at" x="712.5" y="1897">Age</text>
</svg>
</body></html>
